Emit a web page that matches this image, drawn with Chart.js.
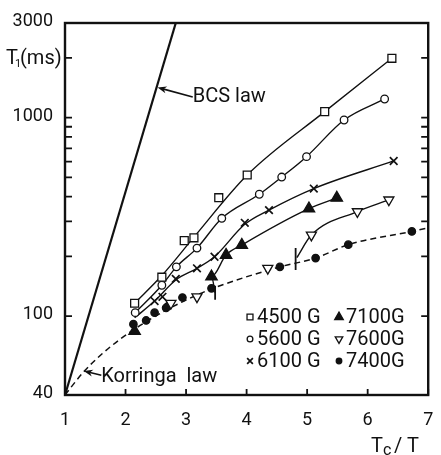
<!DOCTYPE html>
<html>
<head>
<meta charset="utf-8">
<script src="https://cdn.jsdelivr.net/npm/chart.js@4.4.0/dist/chart.umd.min.js"></script>
<style>
  html, body { margin: 0; padding: 0; background: #fff; }
  canvas { display: block; }
</style>
</head>
<body>
<canvas id="t1Chart" width="441" height="455"></canvas>
<script>
// axis ticks
const xTicks = [1, 2, 3, 4, 5, 6, 7];
const yLabelTicks = [40, 100, 1000, 3000];
const yMinorTicks = [100, 200, 300, 400, 500, 600, 700, 800, 900, 1000, 2000];

// measured T1 (ms) vs Tc/T, one pair of arrays per field
const g4500X = [2.15, 2.60, 2.97, 3.13, 3.54, 4.01, 5.29, 6.40];
const g4500Y = [116, 157, 240, 248, 395, 514, 1072, 1992];
const g5600X = [2.16, 2.60, 2.84, 3.18, 3.59, 4.21, 4.58, 4.99, 5.61, 6.28];
const g5600Y = [104, 143, 177, 220, 311, 411, 502, 636, 973, 1242];
const g6100X = [2.48, 2.61, 2.83, 3.18, 3.47, 3.97, 4.37, 5.11, 6.43];
const g6100Y = [119, 125, 154, 174, 199, 295, 342, 439, 605];
const g7100X = [2.15, 3.42, 3.66, 3.92, 5.03, 5.49];
const g7100Y = [84, 158, 203, 228, 348, 394];
const g7600X = [2.75, 3.18, 4.35, 5.07, 5.83, 6.35];
const g7600Y = [116, 125, 174, 256, 336, 385];
const g7400X = [2.13, 2.34, 2.48, 2.67, 2.70, 2.94, 3.42, 4.55, 5.14, 5.68, 6.73];
const g7400Y = [91, 95, 104, 110, 112, 124, 138, 177, 196, 229, 267];

// guide curves
const bcsX = [1, 2.83];
const bcsY = [40, 3000];
const dashX = [1, 1.3, 1.6, 1.9, 2.15, 2.45, 2.94, 3.42, 4.55, 5.14, 5.68, 6.73, 7];
const dashY = [40, 52, 64, 76, 86, 98, 118, 137, 177, 196, 229, 267, 278];
const fit4500X = [2.15, 2.60, 3.13, 4.01, 5.29, 6.40];
const fit4500Y = [116, 160, 250, 514, 1072, 1992];
const fit6100X = [2.15, 2.48, 2.83, 3.18, 3.47, 3.97, 4.37, 5.11, 6.43];
const fit6100Y = [98, 119, 152, 174, 199, 290, 342, 439, 605];
const fit7100X = [3.48, 3.42, 3.66, 3.92, 5.03, 5.49];
const fit7100Y = [131, 158, 203, 228, 348, 394];
const fit7600X = [4.83, 5.07, 5.83, 6.35];
const fit7600Y = [197, 256, 336, 385];
// vertical bars where the high-field branches leave the dashed curve
const barX = [3.48, 4.81];
const barY = [131, 194];

const INK = '#111';
const FONT = 'Roboto, "Liberation Sans", sans-serif';

const pts = (xs, ys) => xs.map((x, i) => ({ x, y: ys[i] }));

const markerSet = (label, xs, ys, style, radius, filled, rotation) => ({
  label,
  data: pts(xs, ys),
  showLine: false,
  pointStyle: style,
  pointRadius: radius,
  pointRotation: rotation || 0,
  pointBackgroundColor: filled ? INK : '#fff',
  pointBorderColor: INK,
  pointBorderWidth: style === 'crossRot' ? 1.7 : 1.3,
  order: 0,
});

const lineSet = (label, xs, ys, width, dash) => ({
  label,
  data: pts(xs, ys),
  showLine: true,
  borderColor: INK,
  borderWidth: width,
  borderDash: dash || [],
  pointRadius: 0,
  cubicInterpolationMode: 'monotone',
  order: 2,
});

const datasets = [
  markerSet('4500 G', g4500X, g4500Y, 'rect', 5.6, false),
  markerSet('5600 G', g5600X, g5600Y, 'circle', 3.8, false),
  markerSet('6100 G', g6100X, g6100Y, 'crossRot', 5.4, false),
  markerSet('7100G', g7100X, g7100Y, 'triangle', 6.6, true),
  markerSet('7600G', g7600X, g7600Y, 'triangle', 5.8, false, 180),
  markerSet('7400G', g7400X, g7400Y, 'circle', 3.7, true),
  lineSet('fit 4500', fit4500X, fit4500Y, 1.4),
  lineSet('fit 5600', g5600X, g5600Y, 1.4),
  lineSet('fit 6100', fit6100X, fit6100Y, 1.4),
  lineSet('fit 7100', fit7100X, fit7100Y, 1.4),
  lineSet('fit 7600', fit7600X, fit7600Y, 1.4),
  lineSet('Korringa', dashX, dashY, 1.5, [6, 4]),
  lineSet('BCS', bcsX, bcsY, 2.2),
  {
    label: 'bars',
    data: pts(barX, barY),
    showLine: false,
    pointStyle: 'line',
    pointRotation: 90,
    pointRadius: [7, 11],
    pointBorderColor: INK,
    pointBorderWidth: 1.8,
    order: 1,
  },
];

function drawArrow(ctx, x0, y0, x1, y1) {
  const ang = Math.atan2(y1 - y0, x1 - x0);
  const len = 9, half = 3.5;
  ctx.beginPath();
  ctx.moveTo(x0, y0);
  ctx.lineTo(x1 - Math.cos(ang) * len * 0.6, y1 - Math.sin(ang) * len * 0.6);
  ctx.stroke();
  ctx.beginPath();
  ctx.moveTo(x1, y1);
  ctx.lineTo(x1 - Math.cos(ang) * len - Math.sin(ang) * half, y1 - Math.sin(ang) * len + Math.cos(ang) * half);
  ctx.lineTo(x1 - Math.cos(ang) * len * 0.7, y1 - Math.sin(ang) * len * 0.7);
  ctx.lineTo(x1 - Math.cos(ang) * len + Math.sin(ang) * half, y1 - Math.sin(ang) * len - Math.cos(ang) * half);
  ctx.closePath();
  ctx.fill();
}

const framePlugin = {
  id: 'frame',
  afterDraw(chart) {
    const { ctx, chartArea: a } = chart;
    const sx = chart.scales.x, sy = chart.scales.y;
    ctx.save();
    ctx.strokeStyle = INK;
    ctx.fillStyle = INK;

    // box
    ctx.lineWidth = 2.4;
    ctx.strokeRect(a.left, a.top, a.right - a.left, a.bottom - a.top);

    // inward ticks
    ctx.lineWidth = 1.8;
    ctx.beginPath();
    xTicks.forEach((v) => {
      const px = sx.getPixelForValue(v);
      ctx.moveTo(px, a.bottom);
      ctx.lineTo(px, a.bottom - 6);
    });
    yMinorTicks.forEach((v) => {
      const py = sy.getPixelForValue(v);
      ctx.moveTo(a.left, py);
      ctx.lineTo(a.left + 7, py);
      ctx.moveTo(a.right, py);
      ctx.lineTo(a.right - 7, py);
    });
    ctx.stroke();

    // tick labels
    ctx.font = `18px ${FONT}`;
    ctx.textBaseline = 'alphabetic';
    ctx.textAlign = 'center';
    xTicks.forEach((v) => ctx.fillText(String(v), sx.getPixelForValue(v), a.bottom + 30));
    ctx.textAlign = 'right';
    yLabelTicks.forEach((v) => ctx.fillText(String(v), a.left - 12, sy.getPixelForValue(v) + 3));

    // axis titles
    ctx.textAlign = 'left';
    ctx.font = `20px ${FONT}`;
    ctx.fillText('T', 6, 63.5);
    ctx.fillText('(ms)', 20, 63.5);
    ctx.font = `11px ${FONT}`;
    ctx.fillText('1', 15, 67);
    ctx.font = `20px ${FONT}`;
    ctx.fillText('T', 371, 452);
    ctx.fillText('/', 394, 452);
    ctx.fillText('T', 407, 452);
    ctx.font = `16px ${FONT}`;
    ctx.fillText('c', 383, 455);

    // curve labels with arrows
    ctx.font = `20px ${FONT}`;
    ctx.textBaseline = 'middle';
    const bx = sx.getPixelForValue(3.11), by = sy.getPixelForValue(1270);
    ctx.fillText('BCS law', bx, by);
    ctx.lineWidth = 1.6;
    drawArrow(ctx, bx, by, sx.getPixelForValue(2.53), sy.getPixelForValue(1420));
    const kx = sx.getPixelForValue(1.6), ky = sy.getPixelForValue(49.2);
    ctx.fillText('Korringa  law', kx, ky);
    drawArrow(ctx, kx, ky - 2, sx.getPixelForValue(1.31), sy.getPixelForValue(52.8));

    // legend, two columns of three
    const rowsY = [317, 339, 361];
    const colX = [250, 339];
    ctx.font = `20px ${FONT}`;
    for (let i = 0; i < 6; i++) {
      const ds = chart.data.datasets[i];
      const mx = colX[Math.floor(i / 3)], my = rowsY[i % 3];
      ctx.fillStyle = ds.pointBackgroundColor;
      ctx.strokeStyle = INK;
      ctx.lineWidth = ds.pointBorderWidth;
      Chart.helpers.drawPoint(ctx, {
        pointStyle: ds.pointStyle,
        rotation: ds.pointRotation,
        radius: ds.pointRadius * 0.75,
        borderWidth: ds.pointBorderWidth,
      }, mx, my);
      ctx.fillStyle = INK;
      ctx.fillText(ds.label, mx + 7, my + 1);
    }
    ctx.restore();
  },
};

new Chart(document.getElementById('t1Chart'), {
  type: 'scatter',
  data: { datasets },
  options: {
    responsive: false,
    devicePixelRatio: 1,
    animation: false,
    layout: { padding: { left: 65, right: 4, top: 23, bottom: 60 } },
    scales: {
      x: { type: 'linear', min: 1, max: 7, display: false },
      y: { type: 'logarithmic', min: 40, max: 3000, display: false },
    },
    plugins: { legend: { display: false }, tooltip: { enabled: false } },
  },
  plugins: [framePlugin],
});
</script>
</body>
</html>
